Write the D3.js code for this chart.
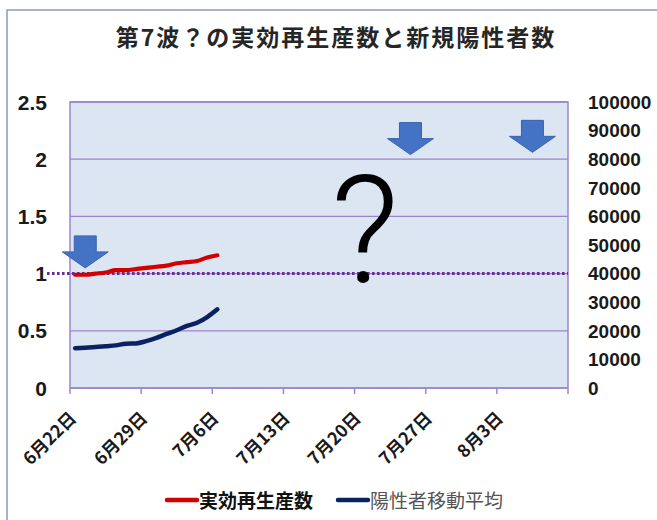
<!DOCTYPE html>
<html><head><meta charset="utf-8">
<script src="https://cdn.jsdelivr.net/npm/d3@7"></script>
<style>html,body{margin:0;padding:0;background:#fff;}</style>
</head><body><div id="chart"></div>
<script>
// ---- data ----
const dates = ["2022-06-22","2022-06-23","2022-06-24","2022-06-25","2022-06-26","2022-06-27","2022-06-28","2022-06-29","2022-06-30","2022-07-01","2022-07-02","2022-07-03","2022-07-04","2022-07-05","2022-07-06"];
const rtValues = [0.99,0.99,1.00,1.01,1.03,1.03,1.04,1.05,1.06,1.07,1.09,1.10,1.11,1.14,1.16];
const positiveAvg = [13900,14100,14300,14600,14900,15500,15600,16400,17500,18900,20200,21700,22800,24800,27500];
const xTickDates = ["2022-06-22","2022-06-29","2022-07-06","2022-07-13","2022-07-20","2022-07-27","2022-08-03","2022-08-10"];
const xTickLabels = ["6月22日","6月29日","7月6日","7月13日","7月20日","7月27日","8月3日",""];
const leftTicks = [0,0.5,1,1.5,2,2.5];
const leftTickLabels = ["0","0.5","1","1.5","2","2.5"];
const rightTicks = [0,10000,20000,30000,40000,50000,60000,70000,80000,90000,100000];
const rightTickLabels = ["0","10000","20000","30000","40000","50000","60000","70000","80000","90000","100000"];
const seriesNames = ["実効再生産数","陽性者移動平均"];
const title = "第7波？の実効再生産数と新規陽性者数";
const refLineValue = 1;
const arrowDates = ["2022-06-23","2022-07-25","2022-08-06"];
const arrowTipValues = [1.05, 2.04, 2.06];
const questionDate = "2022-07-21";
const questionValue = 0.93;

// ---- layout ----
const W = 657, H = 520;
const P = {left:70, right:568, top:102, bottom:388};
const parse = d3.utcParse("%Y-%m-%d");
const half = 12*3600*1000;

const svg = d3.select("#chart").append("svg").attr("width",W).attr("height",H)
  .style("font-family","'Liberation Sans', Arial, sans-serif");

svg.append("rect").attr("x",7).attr("y",10).attr("width",W+20).attr("height",H+20)
  .attr("fill","#fff").attr("stroke","#8a9bb8").attr("stroke-width",1.5);

const x = d3.scaleUtc().domain([parse("2022-06-22"), parse("2022-08-10")]).range([P.left,P.right]);
const yL = d3.scaleLinear().domain([0,2.5]).range([P.bottom,P.top]);
const yR = d3.scaleLinear().domain([0,100000]).range([P.bottom,P.top]);

// plot area
svg.append("rect").attr("x",P.left).attr("y",P.top).attr("width",P.right-P.left).attr("height",P.bottom-P.top)
  .attr("fill","#dce6f2");
// gridlines
svg.append("g").selectAll("line").data(leftTicks).join("line")
  .attr("x1",P.left).attr("x2",P.right).attr("y1",d=>yL(d)).attr("y2",d=>yL(d))
  .attr("stroke","#9c84cc").attr("stroke-width",1.3);
svg.append("rect").attr("x",P.left).attr("y",P.top).attr("width",P.right-P.left).attr("height",P.bottom-P.top)
  .attr("fill","none").attr("stroke","#9c84cc").attr("stroke-width",1.5);

// x axis ticks
svg.append("g").selectAll("line").data(xTickDates).join("line")
  .attr("x1",d=>x(parse(d))).attr("x2",d=>x(parse(d))).attr("y1",P.bottom).attr("y2",P.bottom+6)
  .attr("stroke","#9c84cc").attr("stroke-width",1.5);
svg.append("g").selectAll("text").data(xTickDates).join("text")
  .attr("transform",d=>`translate(${x(parse(d))+3},${P.bottom+27}) rotate(-45)`)
  .attr("text-anchor","end").attr("dy","0.35em")
  .style("font-family","'Noto Sans CJK JP', sans-serif").style("font-weight","700")
  .style("font-size","17.5px").attr("fill","#1a1a1a")
  .text((d,i)=>xTickLabels[i]);

// left axis labels
svg.append("g").selectAll("text").data(leftTicks).join("text")
  .attr("x",47).attr("y",d=>yL(d)).attr("dy","0.36em").attr("text-anchor","end")
  .style("font-size","21px").style("font-weight","700").attr("fill","#1a1a1a")
  .text((d,i)=>leftTickLabels[i]);
// right axis labels
svg.append("g").selectAll("text").data(rightTicks).join("text")
  .attr("x",588).attr("y",d=>yR(d)).attr("dy","0.36em").attr("text-anchor","start")
  .style("font-size","19px").style("font-weight","700").attr("fill","#1a1a1a")
  .text((d,i)=>rightTickLabels[i]);

// reference dotted line
svg.append("line").attr("x1",47).attr("x2",P.right).attr("y1",yL(refLineValue)).attr("y2",yL(refLineValue))
  .attr("stroke","#6a2c9c").attr("stroke-width",3).attr("stroke-dasharray","2.6,2.4");

// lines
const pts = dates.map((d,i)=>({t:new Date(parse(d).getTime()+half), rt:rtValues[i], pos:positiveAvg[i]}));
svg.append("path").datum(pts)
  .attr("d",d3.line().x(d=>x(d.t)).y(d=>yR(d.pos)).curve(d3.curveMonotoneX))
  .attr("fill","none").attr("stroke","#0b2160").attr("stroke-width",4.5).attr("stroke-linecap","round").attr("stroke-linejoin","round");
svg.append("path").datum(pts)
  .attr("d",d3.line().x(d=>x(d.t)).y(d=>yL(d.rt)).curve(d3.curveMonotoneX))
  .attr("fill","none").attr("stroke","#d40000").attr("stroke-width",4.2).attr("stroke-linecap","round").attr("stroke-linejoin","round");

// arrows
const arrowPath = (tx,ty)=>{
  const hw=23, sw=11, hh=16, th=32;
  return `M${tx-sw},${ty-th} L${tx+sw},${ty-th} L${tx+sw},${ty-hh} L${tx+hw},${ty-hh} L${tx},${ty} L${tx-hw},${ty-hh} L${tx-sw},${ty-hh} Z`;
};
svg.append("g").selectAll("path").data(arrowDates).join("path")
  .attr("d",(d,i)=>arrowPath(x(new Date(parse(d).getTime()+half)), yL(arrowTipValues[i])))
  .attr("fill","#4472c4").attr("stroke","#3a63ad").attr("stroke-width",1);

// question mark
svg.append("text").attr("x",x(parse(questionDate))).attr("y",yL(questionValue))
  .attr("text-anchor","middle").style("font-family","Roboto, sans-serif").style("font-weight","300")
  .style("font-size","150px").attr("fill","#000").text("?");

// title
svg.append("text").attr("x",336).attr("y",38).attr("dy","0.35em").attr("text-anchor","middle")
  .style("font-family","'Noto Sans CJK JP', sans-serif").style("font-weight","700")
  .style("font-size","23px").style("letter-spacing","2px").attr("fill","#262626").text(title);

// legend
const leg = [{x1:167,col:"#d40000",tx:199,w:"700",c:"#111"},{x1:338,col:"#0b2160",tx:370,w:"400",c:"#555"}];
const lg = svg.append("g").selectAll("g").data(leg).join("g");
lg.append("line").attr("x1",d=>d.x1).attr("x2",d=>d.x1+30).attr("y1",500).attr("y2",500)
  .attr("stroke",d=>d.col).attr("stroke-width",4.5).attr("stroke-linecap","round");
lg.append("text").attr("x",d=>d.tx).attr("y",501).attr("dy","0.35em")
  .style("font-family","'Noto Sans CJK JP', sans-serif").style("font-weight",d=>d.w)
  .style("font-size","19px").attr("fill",d=>d.c).text((d,i)=>seriesNames[i]);
</script></body></html>
